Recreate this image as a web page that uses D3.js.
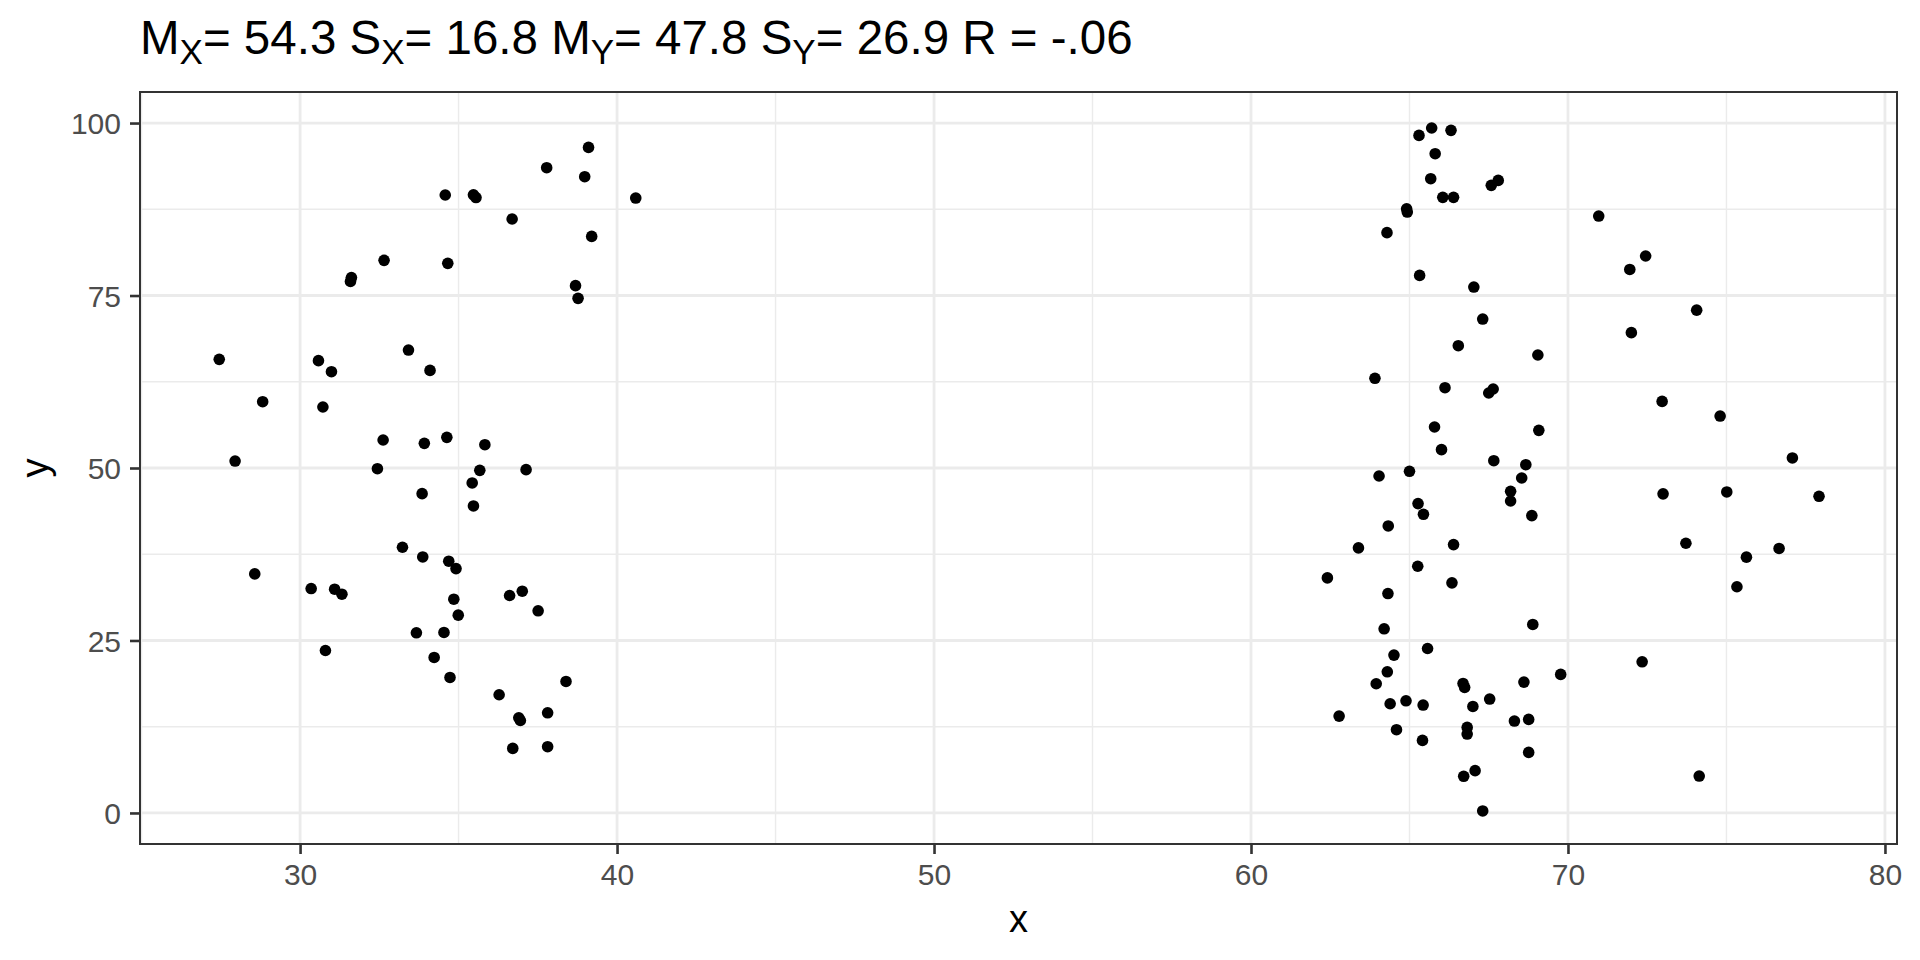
<!DOCTYPE html>
<html>
<head>
<meta charset="utf-8">
<script src="https://cdn.jsdelivr.net/npm/d3@7"></script>
<style>
  html, body { margin: 0; padding: 0; background: #fff; }
  svg { display: block; font-family: "Liberation Sans", Arial, Helvetica, sans-serif; }
</style>
</head>
<body>
<div id="chart"></div>
<script>
// values
const xValues = [
  39.10, 37.78, 38.98, 34.58, 35.47, 35.55, 40.59, 36.69, 39.20, 32.65,
  34.66, 31.62, 31.59, 38.69, 38.77, 27.45, 30.58, 30.99, 33.42, 34.10,
  28.82, 30.72, 32.62, 33.92, 34.63, 35.83, 27.95, 32.44, 35.67, 37.13,
  35.43, 33.85, 35.47, 33.23, 33.87, 34.69, 34.92, 28.57, 30.35, 31.09,
  31.32, 34.85, 37.01, 36.61, 37.51, 34.99, 33.67, 34.54, 30.80, 34.23,
  34.73, 38.39, 36.28, 36.90, 36.95, 37.81, 36.71, 37.81,
  65.70, 66.31, 65.30, 65.81, 65.67, 67.80, 67.58, 66.05, 66.39, 64.91,
  64.93, 70.97, 64.29, 65.32, 67.03, 67.31, 66.54, 69.05, 63.91, 66.12,
  67.64, 67.50, 65.79, 69.08, 66.01, 67.66, 68.67, 65.00, 64.04, 68.54,
  68.19, 68.19, 65.27, 65.44, 68.86, 64.33, 63.39, 66.39, 65.26, 62.41,
  66.34, 64.32, 64.20, 68.89, 65.57, 64.51, 64.30, 63.95, 66.69, 66.74,
  68.61, 69.77, 67.53, 64.89, 64.39, 65.43, 67.00, 62.78, 68.31, 68.76,
  66.82, 66.82, 64.59, 65.41, 68.76, 67.07, 66.71, 67.31,
  72.45, 71.95, 74.06, 72.00, 72.97, 74.80, 77.08, 73.00, 75.01, 77.92,
  73.72, 76.66, 75.63, 75.33, 72.34, 74.14
];
const yValues = [
  96.47, 93.53, 92.22, 89.57, 89.60, 89.20, 89.13, 86.09, 83.57, 80.10,
  79.66, 77.60, 77.05, 76.43, 74.59, 65.75, 65.56, 63.96, 67.10, 64.15,
  59.61, 58.84, 54.06, 53.57, 54.44, 53.38, 51.01, 49.90, 49.66, 49.76,
  47.83, 46.28, 44.50, 38.51, 37.11, 36.49, 35.42, 34.65, 32.53, 32.43,
  31.71, 30.98, 32.14, 31.52, 29.30, 28.67, 26.11, 26.16, 23.55, 22.54,
  19.64, 19.06, 17.13, 13.80, 13.40, 14.52, 9.36, 9.60,
  99.28, 98.94, 98.21, 95.56, 91.93, 91.69, 90.97, 89.23, 89.23, 87.58,
  87.10, 86.52, 84.11, 77.92, 76.23, 71.59, 67.73, 66.38, 63.00, 61.64,
  61.45, 60.87, 55.94, 55.46, 52.66, 51.06, 50.48, 49.52, 48.84, 48.55,
  46.62, 45.22, 44.84, 43.29, 43.10, 41.60, 38.42, 38.90, 35.76, 34.07,
  33.35, 31.80, 26.69, 27.32, 23.84, 22.88, 20.46, 18.73, 18.77, 18.20,
  18.97, 20.08, 16.51, 16.26, 15.83, 15.64, 15.44, 14.04, 13.32, 13.56,
  12.40, 11.44, 12.07, 10.52, 8.78, 6.13, 5.31, 0.29,
  80.73, 78.78, 72.88, 69.62, 59.65, 57.53, 51.46, 46.25, 46.53, 45.90,
  39.09, 38.34, 37.08, 32.79, 21.91, 5.35
];
const xTicks = [30, 40, 50, 60, 70, 80];
const xMinor = [25, 35, 45, 55, 65, 75];
const yTicks = [0, 25, 50, 75, 100];
const yMinor = [12.5, 37.5, 62.5, 87.5];
// title pieces: [plain text, subscript]
const titleParts = [["M", "X"], ["= 54.3 S", "X"], ["= 16.8 M", "Y"], ["= 47.8 S", "Y"], ["= 26.9 R = -.06", ""]];

const W = 1920, H = 960;
const panel = { l: 140, r: 1897, t: 92, b: 844 };

const svg = d3.select('#chart').append('svg').attr('width', W).attr('height', H);
svg.append('rect').attr('width', W).attr('height', H).attr('fill', '#fff');

const x = d3.scaleLinear().domain([24.95, 80.38]).range([panel.l, panel.r]);
const y = d3.scaleLinear().domain([-4.5, 104.5]).range([panel.b, panel.t]);

const grid = svg.append('g');
// minor grid
grid.selectAll('line.xm').data(xMinor).enter().append('line')
  .attr('x1', d => x(d)).attr('x2', d => x(d)).attr('y1', panel.t).attr('y2', panel.b)
  .attr('stroke', '#ebebeb').attr('stroke-width', 1.4);
grid.selectAll('line.ym').data(yMinor).enter().append('line')
  .attr('y1', d => y(d)).attr('y2', d => y(d)).attr('x1', panel.l).attr('x2', panel.r)
  .attr('stroke', '#ebebeb').attr('stroke-width', 1.4);
// major grid
grid.selectAll('line.xM').data(xTicks).enter().append('line')
  .attr('x1', d => x(d)).attr('x2', d => x(d)).attr('y1', panel.t).attr('y2', panel.b)
  .attr('stroke', '#ebebeb').attr('stroke-width', 2.8);
grid.selectAll('line.yM').data(yTicks).enter().append('line')
  .attr('y1', d => y(d)).attr('y2', d => y(d)).attr('x1', panel.l).attr('x2', panel.r)
  .attr('stroke', '#ebebeb').attr('stroke-width', 2.8);

// points
svg.append('g').selectAll('circle').data(xValues.map((v, i) => [v, yValues[i]])).enter().append('circle')
  .attr('cx', d => x(d[0])).attr('cy', d => y(d[1])).attr('r', 5.8).attr('fill', '#000');

// panel border
svg.append('rect').attr('x', panel.l).attr('y', panel.t)
  .attr('width', panel.r - panel.l).attr('height', panel.b - panel.t)
  .attr('fill', 'none').attr('stroke', '#333').attr('stroke-width', 2);

// axes
const xAxis = svg.append('g').attr('transform', `translate(0,${panel.b})`)
  .call(d3.axisBottom(x).tickValues(xTicks).tickSize(10).tickPadding(10));
const yAxis = svg.append('g').attr('transform', `translate(${panel.l},0)`)
  .call(d3.axisLeft(y).tickValues(yTicks).tickSize(10).tickPadding(9));
[xAxis, yAxis].forEach(a => {
  a.select('.domain').remove();
  a.selectAll('.tick line').attr('stroke', '#333').attr('stroke-width', 2.6);
  a.selectAll('.tick text').attr('fill', '#4d4d4d').attr('font-size', 30)
    .attr('font-family', '"Liberation Sans", Arial, Helvetica, sans-serif');
});
xAxis.selectAll('.tick text').attr('dy', '0.71em');
yAxis.selectAll('.tick text').attr('dy', '0.36em');

// axis titles
svg.append('text').attr('x', (panel.l + panel.r) / 2).attr('y', 932)
  .attr('text-anchor', 'middle').attr('font-size', 38).attr('fill', '#000').text('x');
svg.append('text').attr('transform', `translate(48,${(panel.t + panel.b) / 2}) rotate(-90)`)
  .attr('text-anchor', 'middle').attr('font-size', 38).attr('fill', '#000').text('y');

// title with subscripts
const title = svg.append('text').attr('x', panel.l).attr('y', 54).attr('font-size', 47.5).attr('fill', '#000');
let shifted = false;
titleParts.forEach(p => {
  title.append('tspan').attr('dy', shifted ? -10 : 0).text(p[0]);
  shifted = false;
  if (p[1]) {
    title.append('tspan').attr('dy', 10).attr('font-size', 35).text(p[1]);
    shifted = true;
  }
});
</script>
</body>
</html>
